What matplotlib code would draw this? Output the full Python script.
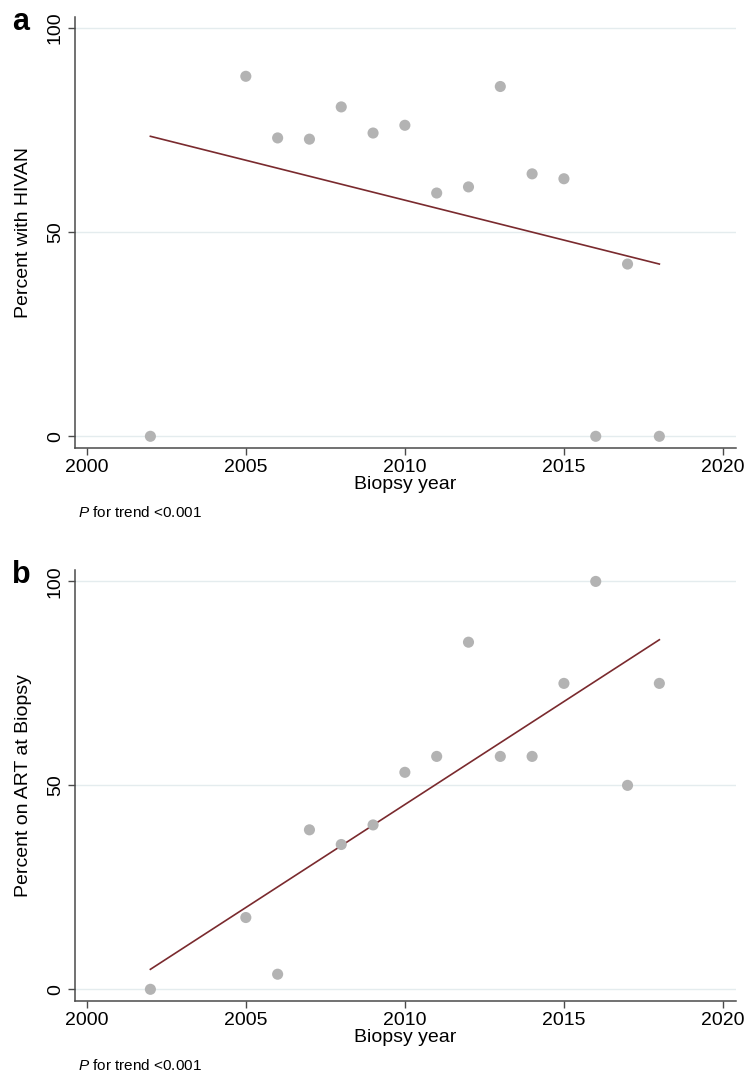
import matplotlib
matplotlib.use("Agg")
import matplotlib.pyplot as plt

plt.rcParams.update({"font.family": ["Liberation Sans", "DejaVu Sans"],
                     "mathtext.fontset": "custom",
                     "mathtext.rm": "Liberation Sans",
                     "mathtext.it": "Liberation Sans:italic"})

# data
years = [2002, 2005, 2006, 2007, 2008, 2009, 2010, 2011, 2012, 2013, 2014, 2015, 2016, 2017, 2018]
hivan_pct = [0, 88.2, 73.1, 72.8, 80.7, 74.3, 76.2, 59.6, 61.1, 85.7, 64.3, 63.1, 0, 42.2, 0]
art_pct = [0, 17.6, 3.7, 39.1, 35.5, 40.3, 53.2, 57.1, 85.1, 57.1, 57.1, 75.0, 100, 50, 75]
trend_years = [2002, 2018]
hivan_trend = [73.5, 42.2]
art_trend = [4.9, 85.7]
xticks = [2000, 2005, 2010, 2015, 2020]
yticks = [0, 50, 100]

W, H = 744, 1072
DOT, LINE, AX, GRID = "#b3b3b3", "#7a2a2e", "#4a4a4a", "#e4ecee"

fig = plt.figure(figsize=(W / 100, H / 100), dpi=100)


def panel(top_px, bottom_px, y, trend, ylabel, letter):
    ax = fig.add_axes([75 / W, 1 - bottom_px / H, (735.7 - 75) / W, (bottom_px - top_px) / H])
    ax.set_xlim(1999.63, 2020.4)
    ax.set_ylim(-2.94, 102.8)
    for t in yticks:
        ax.axhline(t, color=GRID, lw=1.0, zorder=0)
    ax.scatter(years, y, s=64, color=DOT, edgecolor="none", zorder=3)
    ax.plot(trend_years, trend, color=LINE, lw=1.2, zorder=2)
    ax.set_xticks(xticks)
    ax.set_yticks(yticks)
    ax.tick_params(axis="both", length=5, width=1, color=AX, labelsize=14, pad=3)
    for lab in ax.get_yticklabels():
        lab.set_rotation(90)
        lab.set_va("center")
    for s in ("top", "right"):
        ax.spines[s].set_visible(False)
    for s in ("left", "bottom"):
        ax.spines[s].set_color(AX)
        ax.spines[s].set_linewidth(1.1)
    ax.set_xlabel("Biopsy year", fontsize=14, labelpad=0)
    ax.set_ylabel(ylabel, fontsize=14)
    ax.yaxis.set_label_coords(-0.065, 0.5)
    fig.text(12 / W, 1 - (top_px + 13) / H, letter, fontsize=22, fontweight="bold", va="baseline")
    fig.text(78 / W, 1 - (bottom_px + 64) / H, "$P$ for trend <0.001", fontsize=11, va="center")
    return ax


panel(16.7, 448.3, hivan_pct, hivan_trend, "Percent with HIVAN", "a")
panel(570, 1001.3, art_pct, art_trend, "Percent on ART at Biopsy", "b")

fig.savefig("out.png", dpi=100)
